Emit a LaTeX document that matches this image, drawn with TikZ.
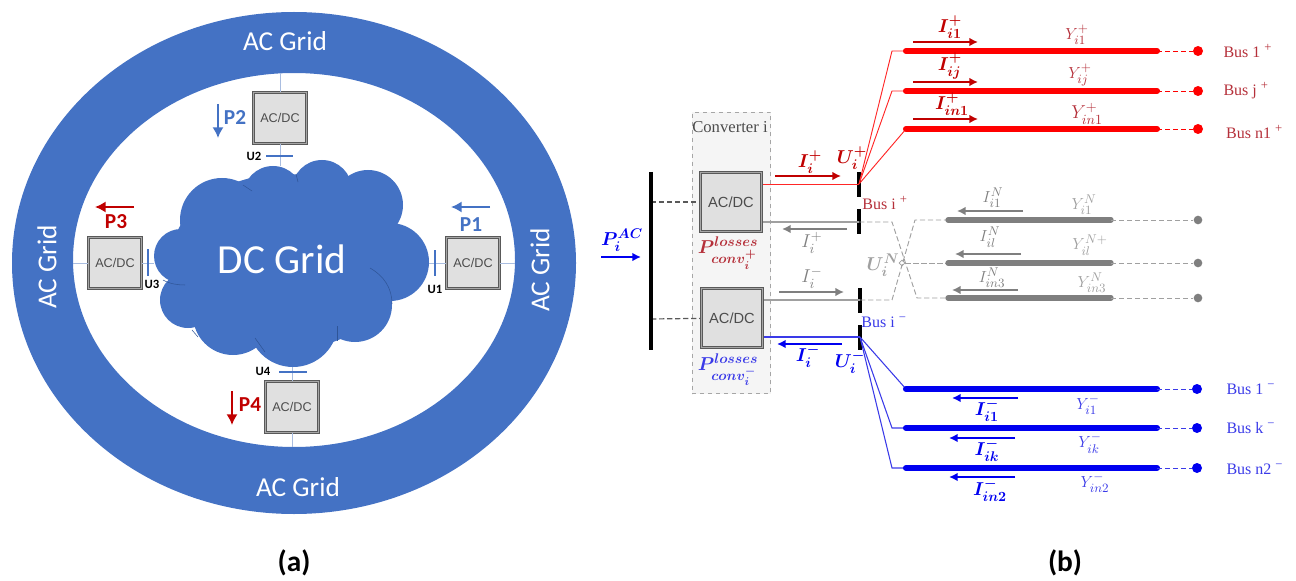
\documentclass[tikz,border=0pt]{standalone}
\usepackage{fix-cm}
\usepackage{amsmath}
\usepackage{fontspec}
\setmainfont{Carlito}
\newfontfamily\busfont{Liberation Serif}
\newfontfamily\boxfont{Liberation Sans}
\usetikzlibrary{shapes.geometric, arrows.meta, positioning, fit, calc}
\DeclareMathSizes{12}{12}{9.5}{8}
\DeclareMathSizes{14}{14}{10.5}{8.5}

\definecolor{gridblue}{HTML}{4472C4}
\definecolor{edgeblue}{HTML}{2F5597}
\definecolor{tieblue}{HTML}{A9BDE0}
\definecolor{powred}{HTML}{C00000}
\definecolor{posred}{HTML}{FF0000}
\definecolor{labred}{HTML}{B5303A}
\definecolor{negblue}{HTML}{0000F0}
\definecolor{labblue}{HTML}{3A3AE8}
\definecolor{neugrey}{HTML}{7F7F7F}
\definecolor{laggrey}{HTML}{A0A0A0}

\begin{document}
\begin{tikzpicture}[
    x=.75pt, y=-.75pt,
    node distance=15pt and 15pt,
    acsmall/.style={rectangle, draw=black!65, double=black!35, double distance=1pt, line width=.7pt, fill=black!12, minimum width=40pt, minimum height=38pt, inner sep=0pt, text=black!70, font=\boxfont\fontsize{9.5}{11}\selectfont},
    acbig/.style={acsmall, minimum width=46pt, minimum height=44pt, font=\boxfont\fontsize{11}{13}\selectfont},
    gridlab/.style={inner sep=0pt, text=white, font=\fontsize{20.5}{24}\selectfont},
    ulab/.style={inner sep=0pt, font=\bfseries\fontsize{9.5}{11}\selectfont},
    plab/.style={inner sep=0pt, font=\bfseries\fontsize{16}{18}\selectfont},
    tie/.style={draw=tieblue, line width=.6pt},
    ubar/.style={draw=gridblue, line width=1.4pt},
    parrow/.style={draw, -{Latex[length=8pt, width=8.5pt]}, line width=2pt},
    busbar/.style={draw=black, line width=2.8pt},
    mlab/.style={inner sep=0pt, font=\fontsize{12}{14}\selectfont},
    mbig/.style={inner sep=0pt, font=\fontsize{14}{16}\selectfont},
    busl/.style={inner sep=0pt, font=\busfont\fontsize{12}{14}\selectfont},
    reddot/.style={circle, fill=posred, inner sep=0pt, minimum size=7.5pt},
    bludot/.style={circle, fill=negblue, inner sep=0pt, minimum size=7.5pt},
    gredot/.style={circle, fill=neugrey, inner sep=0pt, minimum size=6.5pt},
    redline/.style={draw=posred!85!white, line width=.7pt},
    bluline/.style={draw=labblue, line width=.8pt},
    greline/.style={draw=laggrey, line width=.8pt},
    redfeed/.style={draw=posred, line width=4.6pt, line cap=round},
    blufeed/.style={draw=negblue, line width=4.6pt, line cap=round},
    grefeed/.style={draw=neugrey, line width=4pt, line cap=round},
    reddash/.style={draw=posred, dash pattern=on 4pt off 2pt, line width=.7pt},
    bludash/.style={draw=labblue, dash pattern=on 4pt off 2pt, line width=.7pt},
    gredash/.style={draw=laggrey, dash pattern=on 4pt off 2pt, line width=.7pt},
    redarrow/.style={draw=powred, -{Latex[length=6.5pt, width=6.5pt]}, line width=1.5pt},
    bluarrow/.style={draw=negblue, -{Latex[length=6.5pt, width=6.5pt]}, line width=1.5pt},
    grearrow/.style={draw=neugrey, -{Latex[length=6.5pt, width=6.5pt]}, line width=1.4pt}
]
\useasboundingbox (0,0) rectangle (1296,581);

% AC ring
\fill [gridblue, even odd rule] (294,263) ellipse [x radius=282, y radius=251] (294,260) ellipse [x radius=221, y radius=187];
\node [gridlab] (acnorth) at (285,41) {AC Grid};
\node [gridlab] (acsouth) at (298,487) {AC Grid};
\node [gridlab, rotate=90] (acwest) at (47,267) {AC Grid};
\node [gridlab, rotate=90] (aceast) at (540,270) {AC Grid};

% DC cloud
\fill [gridblue] (285,262) ellipse [x radius=115, y radius=88];
\fill [gridblue] (222,220) circle [radius=42];
\fill [gridblue] (273,196) circle [radius=30];
\fill [gridblue] (322,190) circle [radius=30];
\fill [gridblue] (368,205) circle [radius=35];
\fill [gridblue] (390,262) circle [radius=39];
\fill [gridblue] (355,305) circle [radius=37];
\fill [gridblue] (293,322) circle [radius=45];
\fill [gridblue] (233,315) circle [radius=40];
\fill [gridblue] (188,300) circle [radius=28];
\fill [gridblue] (181,256) circle [radius=27];
\draw [edgeblue, line width=.4pt] (243,185) -- (252,191);
\draw [edgeblue, line width=.4pt] (296,174) -- (298,182);
\draw [edgeblue, line width=.4pt] (163,280) .. controls (170,284) and (178,285) .. (185,285);
\draw [edgeblue, line width=.4pt] (370,268) .. controls (384,276) and (392,288) .. (392,304);
\draw [edgeblue, line width=.4pt] (337,326) -- (337,341);
\draw [edgeblue, line width=.4pt] (255,338) -- (265,352);
\draw [edgeblue, line width=.4pt] (192,330) -- (198,337);
\node [inner sep=0pt, text=white, font=\fontsize{31}{35}\selectfont] (dcgrid) at (282,259) {DC Grid};

% converters of the ring
\node [acsmall] (conv1) at (473,263) {AC/DC};
\node [acsmall] (conv2) at (280,118) {AC/DC};
\node [acsmall] (conv3) at (115,263) {AC/DC};
\node [acsmall] (conv4) at (292,407) {AC/DC};

\coordinate (ringe) at (515,263);
\coordinate (ringn) at (280,73);
\coordinate (ringw) at (73,263);
\coordinate (rings) at (292,447);
\coordinate (clde) at (429,263);
\coordinate (cldn) at (280,166);
\coordinate (cldw) at (154,263);
\coordinate (clds) at (292,367);
\path [tie] (conv1) -- (ringe);
\path [tie] (conv1) -- (clde);
\path [tie] (conv2) -- (ringn);
\path [tie] (conv2) -- (cldn);
\path [tie] (conv3) -- (ringw);
\path [tie] (conv3) -- (cldw);
\path [tie] (conv4) -- (rings);
\path [tie] (conv4) -- (clds);

\path [ubar] (435,250) -- ++(0,26);
\path [ubar] (266,156) -- ++(27,0);
\path [ubar] (148,249) -- ++(0,27);
\path [ubar] (279,372) -- ++(28,0);
\node [ulab] (u1) at (435,289) {U1};
\node [ulab] (u2) at (254,156) {U2};
\node [ulab] (u3) at (152,284) {U3};
\node [ulab] (u4) at (263,371) {U4};

\path [parrow, gridblue] (490,207) -- ++(-39,0);
\path [parrow, gridblue] (218,104) -- ++(0,34);
\path [parrow, powred] (134,207) -- ++(-39,0);
\path [parrow, powred] (232,391) -- ++(0,34);
\node [plab, text=gridblue] (p1) at (471,225) {P1};
\node [plab, text=gridblue] (p2) at (235,118) {P2};
\node [plab, text=powred] (p3) at (116,222) {P3};
\node [plab, text=powred] (p4) at (250,405) {P4};

% converter i
\node [draw=black!35, dashed, fill=black!4, line width=.7pt, minimum width=59pt, minimum height=211pt, inner sep=0pt] (convi) at (731.5,253) {};
\node [inner sep=0pt, text=black!70, font=\busfont\fontsize{12.5}{14}\selectfont] (convlab) at (730,127) {Converter i};
\node [acbig] (convp) at (731,202) {AC/DC};
\node [acbig] (convn) at (732,318) {AC/DC};

\coordinate (acbusp) at (651,202);
\coordinate (acbusn) at (651,319);
\path [draw=black!65, dash pattern=on 4pt off 2pt, line width=.9pt] (acbusp) -- (convp);
\path [draw=black!65, dash pattern=on 4pt off 2pt, line width=.9pt] (acbusn) -- (convn);
\path [busbar] (651,172) -- ++(0,178);
\path [busbar] (859,172) -- ++(0,25);
\path [busbar] (859,209) -- ++(0,25);
\path [busbar] (860,288) -- ++(0,25);
\path [busbar] (860,325) -- ++(0,25);

\path [bluarrow, line width=1.3pt] (601,257) -- ++(40,0);
\node [mbig, text=negblue] (pac) at (622,240) {$\boldsymbol{P_i^{AC}}$};
\node [mbig, text=labred] (lossp) at (728,253) {$\boldsymbol{P_{conv_i^+}^{losses}}$};
\node [mbig, text=labblue] (lossn) at (728,370) {$\boldsymbol{P_{conv_i^-}^{losses}}$};

% bus i feeders
\coordinate (bipr) at (859,184);
\coordinate (bign) at (859,222);
\coordinate (bigs) at (860,300);
\coordinate (bibl) at (860,337);
\coordinate (convpr) at (763,184);
\coordinate (convpg) at (763,222);
\coordinate (convng) at (764,300);
\coordinate (convnb) at (764,337);
\path [redline] (convpr) -- (bipr);
\path [greline] (convpg) -- (bign);
\path [greline] (convng) -- (bigs);
\path [bluline] (convnb) -- (bibl);

\path [redarrow] (775,176) -- ++(66,0);
\path [grearrow] (847,229) -- ++(-65,0);
\path [grearrow] (779,292) -- ++(65,0);
\path [bluarrow] (842,344) -- ++(-65,0);
\node [mbig, text=powred] (ipi) at (810,162) {$\boldsymbol{I_i^{+}}$};
\node [mbig, text=neugrey] (igp) at (812,243) {$I_i^{+}$};
\node [mbig, text=neugrey] (ign) at (812,278) {$I_i^{-}$};
\node [mbig, text=negblue] (ini) at (808,356) {$\boldsymbol{I_i^{-}}$};
\node [mbig, text=powred] (upi) at (852,158) {$\boldsymbol{U_i^{+}}$};
\node [mbig, text=negblue] (uni) at (850,362) {$\boldsymbol{U_i^{-}}$};
\node [mbig, text=laggrey] (ugi) at (883,265) {$\boldsymbol{U_i^{N}}$};
\node [busl, text=labred] (busip) at (885,203) {Bus i \textsuperscript{+}};
\node [busl, text=labblue] (busin) at (884,322) {Bus i \textsuperscript{\textminus}};

% positive feeders
\coordinate (rs1) at (906,51);
\coordinate (rs2) at (906,91);
\coordinate (rs3) at (906,129);
\coordinate (re1) at (1157,51);
\coordinate (re2) at (1157,91);
\coordinate (re3) at (1157,129);
\node [reddot] (rd1) at (1198,51) {};
\node [reddot] (rd2) at (1198,91) {};
\node [reddot] (rd3) at (1198,129) {};
\path [redline] (bipr) -- (892,51) -- (rs1);
\path [redline] (bipr) -- (892,91) -- (rs2);
\path [redline] (bipr) -- (rs3);
\path [redfeed] (rs1) -- (re1);
\path [redfeed] (rs2) -- (re2);
\path [redfeed] (rs3) -- (re3);
\path [reddash] (re1) -- (rd1);
\path [reddash] (re2) -- (rd2);
\path [reddash] (re3) -- (rd3);
\path [redarrow] (913,42) -- ++(65,0);
\path [redarrow] (913,82) -- ++(65,0);
\path [redarrow] (913,119) -- ++(65,0);
\node [mbig, text=powred] (ir1) at (950,27) {$\boldsymbol{I_{i1}^{+}}$};
\node [mbig, text=powred] (ir2) at (950,66) {$\boldsymbol{I_{ij}^{+}}$};
\node [mbig, text=powred] (ir3) at (952,104) {$\boldsymbol{I_{in1}^{+}}$};
\node [mlab, text=labred] (yr1) at (1077,35) {$Y_{i1}^{+}$};
\node [mlab, text=labred] (yr2) at (1080,75) {$Y_{ij}^{+}$};
\node [mbig, text=labred] (yr3) at (1087,114) {$Y_{in1}^{+}$};
\node [busl, text=labred, right=15pt of rd1] (bus1p) {Bus 1 \textsuperscript{+}};
\node [busl, text=labred, right=15pt of rd2] (busjp) {Bus j \textsuperscript{+}};
\node [busl, text=labred, right=17pt of rd3, yshift=-2pt] (busnp) {Bus n1 \textsuperscript{+}};

% neutral feeders
\coordinate (gs1) at (948,220);
\coordinate (gs2) at (948,263);
\coordinate (gs3) at (948,298);
\coordinate (ge1) at (1111,220);
\coordinate (ge2) at (1111,263);
\coordinate (ge3) at (1111,298);
\node [gredot] (gd1) at (1198,220) {};
\node [gredot] (gd2) at (1198,263) {};
\node [gredot] (gd3) at (1198,298) {};
\node [diamond, draw=laggrey, fill=white, line width=.5pt, inner sep=0pt, minimum size=4.5pt] (gcross) at (902,263) {};
\path [gredash] (bign) -- (892,222) -- (917,298) -- (gs3);
\path [gredash] (bigs) -- (892,300) -- (915,220) -- (gs1);
\path [gredash] (gcross) -- (gs2);
\path [grefeed] (gs1) -- (ge1);
\path [grefeed] (gs2) -- (ge2);
\path [grefeed] (gs3) -- (ge3);
\path [gredash] (ge1) -- (gd1);
\path [gredash] (ge2) -- (gd2);
\path [gredash] (ge3) -- (gd3);
\path [grearrow, line width=1.2pt] (1023,211) -- ++(-66,0);
\path [grearrow, line width=1.2pt] (1021,254) -- ++(-66,0);
\path [grearrow, line width=1.2pt] (1018,290) -- ++(-66,0);
\node [mlab, text=neugrey] (ig1) at (993,198) {$I_{i1}^{N}$};
\node [mlab, text=neugrey] (ig2) at (990,237) {$I_{il}^{N}$};
\node [mlab, text=neugrey] (ig3) at (992,278) {$I_{in3}^{N}$};
\node [mlab, text=laggrey] (yg1) at (1084,205) {$Y_{i1}^{N}$};
\node [mlab, text=laggrey] (yg2) at (1090,245) {$Y_{il}^{N+}$};
\node [mlab, text=laggrey] (yg3) at (1092,283) {$Y_{in3}^{N}$};

% negative feeders
\coordinate (bs1) at (906,389);
\coordinate (bs2) at (906,428);
\coordinate (bs3) at (906,468);
\coordinate (be1) at (1157,389);
\coordinate (be2) at (1157,428);
\coordinate (be3) at (1157,468);
\node [bludot] (bd1) at (1197,389) {};
\node [bludot] (bd2) at (1197,428) {};
\node [bludot] (bd3) at (1197,468) {};
\path [bluline] (bibl) -- (bs1);
\path [bluline] (bibl) -- (892,428) -- (bs2);
\path [bluline] (bibl) -- (892,468) -- (bs3);
\path [blufeed] (bs1) -- (be1);
\path [blufeed] (bs2) -- (be2);
\path [blufeed] (bs3) -- (be3);
\path [bludash] (be1) -- (bd1);
\path [bludash] (be2) -- (bd2);
\path [bludash] (be3) -- (bd3);
\path [bluarrow] (1018,398) -- ++(-66,0);
\path [bluarrow] (1015,438) -- ++(-66,0);
\path [bluarrow] (1015,477) -- ++(-66,0);
\node [mbig, text=negblue] (ib1) at (987,410) {$\boldsymbol{I_{i1}^{-}}$};
\node [mbig, text=negblue] (ib2) at (987,450) {$\boldsymbol{I_{ik}^{-}}$};
\node [mbig, text=negblue] (ib3) at (990,490) {$\boldsymbol{I_{in2}^{-}}$};
\node [mlab, text=labblue] (yb1) at (1088,405) {$Y_{i1}^{-}$};
\node [mlab, text=labblue] (yb2) at (1090,443) {$Y_{ik}^{-}$};
\node [mlab, text=labblue] (yb3) at (1095,483) {$Y_{in2}^{-}$};
\node [busl, text=labblue, right=18pt of bd1] (bus1n) {Bus 1 \textsuperscript{\textminus}};
\node [busl, text=labblue, right=18pt of bd2] (buskn) {Bus k \textsuperscript{\textminus}};
\node [busl, text=labblue, right=18pt of bd3, yshift=-1pt] (busnn) {Bus n2 \textsuperscript{\textminus}};

% captions
\node [inner sep=0pt, font=\bfseries\fontsize{22}{24}\selectfont] (capa) at (294,563) {(a)};
\node [inner sep=0pt, font=\bfseries\fontsize{22}{24}\selectfont] (capb) at (1065,563) {(b)};
\end{tikzpicture}
\end{document}
